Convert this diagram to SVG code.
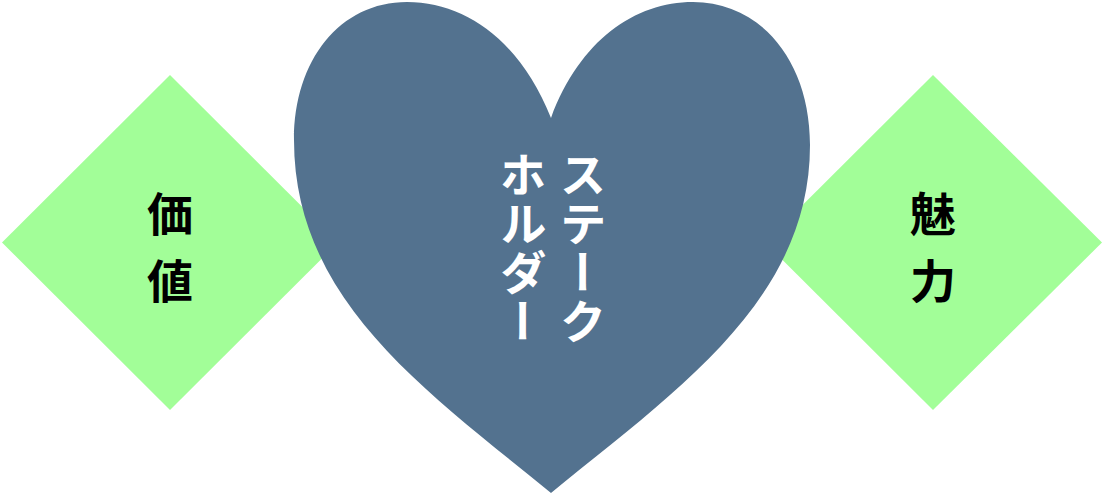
<svg xmlns="http://www.w3.org/2000/svg" width="1104" height="495" viewBox="0 0 1104 495">
<style>
.dia{fill:#a2fe98}
.heart{fill:#53728f}
.lbl{font-family:"Noto Sans CJK JP","Noto Sans CJK SC",sans-serif;font-weight:bold;font-size:46px;fill:#000;text-anchor:middle;dominant-baseline:central}
.vt{font-family:"Noto Sans CJK JP","Noto Sans CJK SC",sans-serif;font-weight:bold;font-size:47px;fill:#fff;text-anchor:middle;writing-mode:vertical-rl;letter-spacing:2px}
</style>
<rect width="1104" height="495" fill="#fff"/>
<g id="value">
<polygon class="dia" points="170,75 338,242.5 170,410 2,242.5"/>
<text class="lbl" x="170" y="211">価</text>
<text class="lbl" x="170" y="278">値</text>
</g>
<g id="charm">
<polygon class="dia" points="933,75 1102,242.5 933,410 765,242.5"/>
<text class="lbl" x="933" y="211">魅</text>
<text class="lbl" x="933" y="278">力</text>
</g>
<g id="stakeholder">
<path class="heart" d="M551,118 C520,40 465,2 407,2 C340,2 294,60 294,140 C294,300 425,390 551,493 C677,390 810,300 810,145 C810,60 760,2 693,2 C635,2 580,40 551,118 Z"/>
<text class="vt" x="583" y="249">ステーク</text>
<text class="vt" x="523" y="249">ホルダー</text>
</g>
<g id="connectors"></g>
</svg>
